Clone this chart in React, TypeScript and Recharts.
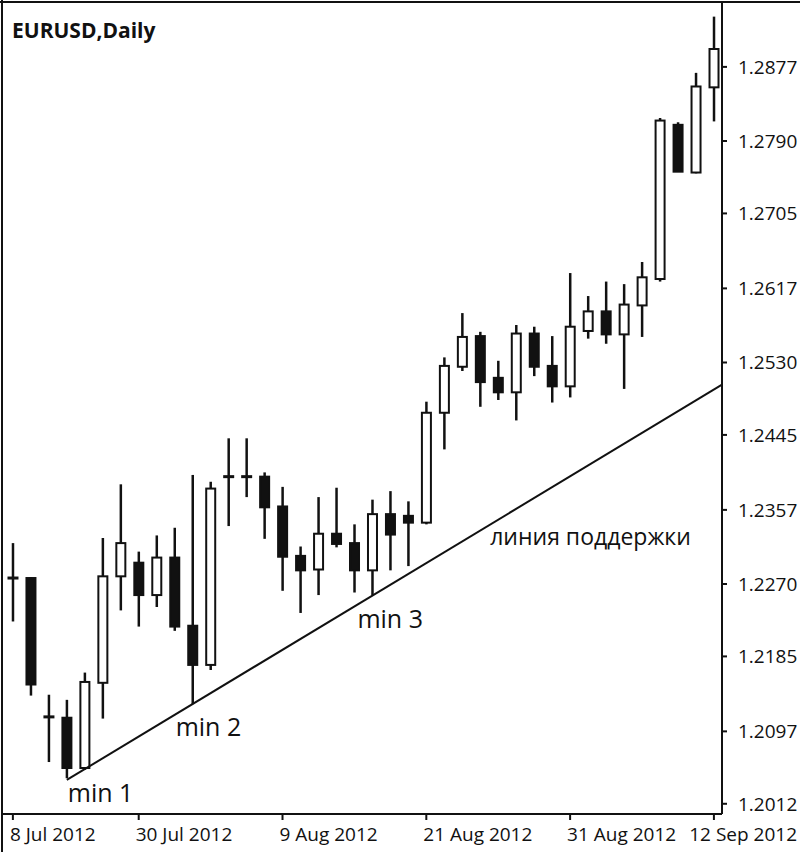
import { ComposedChart, Bar, XAxis, YAxis, ReferenceLine, ReferenceDot } from 'recharts';

const dates = [
    '8 Jul 2012', '20 Jul 2012', '23 Jul 2012', '24 Jul 2012', '25 Jul 2012', '26 Jul 2012', '27 Jul 2012',
    '30 Jul 2012', '31 Jul 2012', '1 Aug 2012', '2 Aug 2012', '3 Aug 2012', '6 Aug 2012', '7 Aug 2012',
    '8 Aug 2012', '9 Aug 2012', '10 Aug 2012', '13 Aug 2012', '14 Aug 2012', '15 Aug 2012', '16 Aug 2012',
    '17 Aug 2012', '20 Aug 2012', '21 Aug 2012', '22 Aug 2012', '23 Aug 2012', '24 Aug 2012', '27 Aug 2012',
    '28 Aug 2012', '29 Aug 2012', '30 Aug 2012', '31 Aug 2012', '3 Sep 2012', '4 Sep 2012', '5 Sep 2012',
    '6 Sep 2012', '7 Sep 2012', '10 Sep 2012', '11 Sep 2012', '12 Sep 2012',
];

const opens = [
    1.2277, 1.2277, 1.2114, 1.2113, 1.2054, 1.2154, 1.2279, 1.2295, 1.2257, 1.2301,
    1.2221, 1.2175, 1.2396, 1.2396, 1.2396, 1.2361, 1.2303, 1.2287, 1.2329, 1.2318,
    1.2286, 1.2352, 1.2350, 1.2342, 1.2471, 1.2525, 1.2561, 1.2512, 1.2495, 1.2564,
    1.2526, 1.2502, 1.2567, 1.2590, 1.2563, 1.2597, 1.2628, 1.2809, 1.2753, 1.2853,
];
const highs = [
    1.2318, 1.2278, 1.2140, 1.2134, 1.2166, 1.2324, 1.2387, 1.2308, 1.2327, 1.2336,
    1.2398, 1.2390, 1.2441, 1.2441, 1.2401, 1.2384, 1.2314, 1.2372, 1.2383, 1.2340,
    1.2369, 1.2379, 1.2367, 1.2484, 1.2536, 1.2588, 1.2566, 1.2532, 1.2574, 1.2572,
    1.2561, 1.2635, 1.2608, 1.2625, 1.2622, 1.2648, 1.2817, 1.2812, 1.2870, 1.2936,
];
const lows = [
    1.2226, 1.2139, 1.2061, 1.2042, 1.2052, 1.2112, 1.2239, 1.2220, 1.2243, 1.2215,
    1.2129, 1.2169, 1.2338, 1.2372, 1.2323, 1.2262, 1.2236, 1.2257, 1.2313, 1.2260,
    1.2257, 1.2286, 1.2291, 1.2340, 1.2428, 1.2520, 1.2478, 1.2486, 1.2462, 1.2514,
    1.2483, 1.2489, 1.2558, 1.2552, 1.2499, 1.2560, 1.2625, 1.2754, 1.2752, 1.2813,
];
const closes = [
    1.2277, 1.2152, 1.2114, 1.2054, 1.2155, 1.2279, 1.2318, 1.2257, 1.2301, 1.2220,
    1.2175, 1.2382, 1.2396, 1.2396, 1.2360, 1.2302, 1.2286, 1.2329, 1.2317, 1.2286,
    1.2352, 1.2328, 1.2342, 1.2471, 1.2526, 1.2560, 1.2507, 1.2495, 1.2564, 1.2525,
    1.2502, 1.2572, 1.2590, 1.2563, 1.2598, 1.2630, 1.2814, 1.2754, 1.2854, 1.2898,
];

const priceTicks = [1.2012, 1.2097, 1.2185, 1.2270, 1.2357, 1.2445, 1.2530, 1.2617, 1.2705, 1.2790, 1.2877];
const dateTicks = [0, 7, 15, 23, 31, 39];

// support line: from the first low out to the right edge
const supportLine = [
    { x: 3, y: 1.2040 },
    { x: 39.45, y: 1.2504 },
];

const minPoints = [
    { bar: 3, label: 'min 1', dx: 1, dy: 24 },
    { bar: 10, label: 'min 2', dx: -17, dy: 32 },
    { bar: 20, label: 'min 3', dx: -15, dy: 33 },
];

const data = dates.map((date, i) => ({
    i,
    date,
    open: opens[i],
    high: highs[i],
    low: lows[i],
    close: closes[i],
}));

const FONT = '"Open Sans", sans-serif';
const INK = '#111';

function Candle(props: any) {
    const { x, y, width, height, payload } = props;
    if (!payload) return null;
    const top = Math.min(y, y + height);
    const h = Math.abs(height);
    const { open, close, high, low } = payload;
    const k = h / (high - low || 1);
    const cx = x + width / 2;
    const oy = top + (high - open) * k;
    const cy = top + (high - close) * k;
    const bw = 11;
    const bull = close > open;
    return (
        <g>
            <line x1={cx} x2={cx} y1={top} y2={top + h} stroke={INK} strokeWidth={2.5} />
            {open === close ? (
                <line x1={cx - bw / 2} x2={cx + bw / 2} y1={oy} y2={oy} stroke={INK} strokeWidth={3} />
            ) : (
                <rect
                    x={cx - bw / 2 + 1}
                    y={Math.min(oy, cy)}
                    width={bw - 2}
                    height={Math.max(Math.abs(cy - oy), 1)}
                    fill={bull ? '#fff' : INK}
                    stroke={INK}
                    strokeWidth={2}
                />
            )}
        </g>
    );
}

function DateTick({ x, y, payload }: any) {
    // the last label would run off the right edge, so it is pulled back in
    const last = payload.value === dateTicks[dateTicks.length - 1];
    return (
        <text
            x={last ? 797 : x - 3}
            y={y + 19}
            textAnchor={last ? 'end' : 'start'}
            fill={INK}
            fontSize={19}
            fontFamily={FONT}
        >
            {dates[payload.value]}
        </text>
    );
}

function Note({ cx, cy, text, dx, dy, size }: any) {
    return (
        <text x={cx + dx} y={cy + dy} fill={INK} fontSize={size} fontFamily={FONT}>
            {text}
        </text>
    );
}

export default function App() {
    return (
        <div style={{ position: 'relative', width: 800, height: 852, background: '#fff', fontFamily: FONT }}>
            <style>{'body{margin:0}'}</style>
            <ComposedChart width={800} height={852} data={data} margin={{ top: 3, right: 0, bottom: 0, left: 3 }}>
                <XAxis
                    dataKey="i"
                    type="number"
                    domain={[-0.55, 39.45]}
                    allowDataOverflow
                    ticks={dateTicks}
                    interval={0}
                    height={38}
                    tick={<DateTick />}
                    tickSize={6}
                    axisLine={{ stroke: INK, strokeWidth: 2 }}
                    tickLine={{ stroke: INK, strokeWidth: 2 }}
                />
                <YAxis
                    orientation="right"
                    type="number"
                    domain={[1.2, 1.2952]}
                    allowDataOverflow
                    ticks={priceTicks}
                    interval={0}
                    width={78}
                    tickSize={5}
                    tickMargin={11}
                    tickFormatter={(v: number) => v.toFixed(4)}
                    tick={{ fill: INK, fontSize: 19, fontFamily: FONT }}
                    axisLine={{ stroke: INK, strokeWidth: 2 }}
                    tickLine={{ stroke: INK, strokeWidth: 2 }}
                />
                <Bar
                    dataKey={(d: any) => [d.low, d.high]}
                    barSize={18}
                    isAnimationActive={false}
                    shape={(p: any) => <Candle {...p} />}
                />
                <ReferenceLine segment={supportLine} stroke={INK} strokeWidth={2} ifOverflow="visible" />
                {minPoints.map((m) => (
                    <ReferenceDot
                        key={m.label}
                        x={m.bar}
                        y={lows[m.bar]}
                        ifOverflow="visible"
                        shape={(p: any) => <Note {...p} text={m.label} dx={m.dx} dy={m.dy} size={25} />}
                    />
                ))}
                <ReferenceDot
                    x={27}
                    y={1.235}
                    ifOverflow="visible"
                    shape={(p: any) => <Note {...p} text="линия поддержки" dx={-8} dy={29} size={23} />}
                />
            </ComposedChart>
            <div style={{ position: 'absolute', left: 0, top: 1, width: 800, height: 2, background: INK }} />
            <div style={{ position: 'absolute', left: 1, top: 0, width: 2, height: 852, background: INK }} />
            <div
                style={{
                    position: 'absolute',
                    left: 12,
                    top: 17,
                    fontSize: 21,
                    fontWeight: 700,
                    color: INK,
                    lineHeight: '26px',
                }}
            >
                EURUSD,Daily
            </div>
        </div>
    );
}
